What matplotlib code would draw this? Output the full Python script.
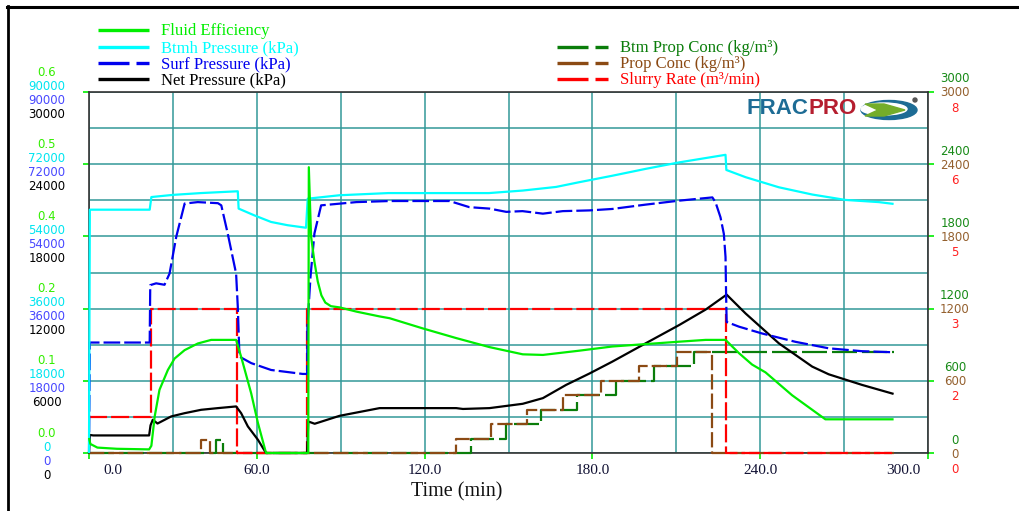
import matplotlib
matplotlib.use("Agg")
import matplotlib.pyplot as plt
from matplotlib.lines import Line2D
from matplotlib.patches import Ellipse, Polygon
from matplotlib.transforms import ScaledTranslation

plt.rcParams["lines.scale_dashes"] = False

# ---------------- data ----------------
# Fluid efficiency (fraction)
fe_t = [0, 0.5, 3, 10, 21.5, 22.3, 23.5, 25.2, 28.2, 30.6, 34.2, 38.9, 43.7, 52.6,
        54.4, 58.0, 60.4, 63.3, 77.6, 78.4, 78.6, 79.4, 80.6, 81.8, 83.1, 84.5, 86.5,
        89.6, 95.6, 103.9, 107.5, 119.4, 131.3, 143.2, 155.1, 162.3, 175.2, 187.1,
        199.0, 211.0, 220.5, 227.6, 232.4, 237.1, 241.9, 251.4, 263.3, 287.7]
fe_v = [0.025, 0.015, 0.009, 0.007, 0.006, 0.012, 0.061, 0.105, 0.138, 0.157, 0.171,
        0.182, 0.188, 0.188, 0.160, 0.099, 0.050, 0.0, 0.0, 0.0, 0.475, 0.360, 0.318,
        0.285, 0.262, 0.250, 0.244, 0.242, 0.235, 0.227, 0.224, 0.207, 0.191, 0.176,
        0.164, 0.163, 0.170, 0.177, 0.181, 0.185, 0.188, 0.188, 0.166, 0.147, 0.134,
        0.096, 0.056, 0.056]

# Bottomhole pressure (kPa)
bh_t = [0, 0.3, 21.7, 22.3, 30, 40, 53.2, 53.5, 59.2, 65.1, 71.0, 77.6, 78.2, 79.5,
        89.6, 107, 143, 155.1, 167, 175.2, 187.1, 199, 211, 227.6, 227.9, 234.8,
        246.7, 258.6, 270.5, 282.4, 287.7]
bh_v = [0, 60660, 60660, 63810, 64350, 64800, 65250, 60930, 59220, 57600, 56790,
        56160, 63400, 63500, 64260, 64800, 64800, 65430, 66330, 67500, 69120, 70830,
        72450, 74340, 70560, 68760, 66240, 64440, 63090, 62550, 62100]

# Surface pressure (kPa)
sp_t = [0, 0.3, 21.7, 21.9, 24, 27, 28.8, 31.2, 34.2, 38.9, 46.1, 47.3, 49.6, 52.6,
        53.2, 53.8, 58, 65.1, 76.4, 78, 78.1, 79.2, 80.6, 83, 90, 95.6, 107.5, 128.9,
        136, 143.2, 149.2, 155, 162.3, 169.4, 178.9, 187.1, 199, 211, 222.9, 224,
        225.8, 227, 227.6, 227.8, 228, 232.4, 240.7, 252.6, 264.5, 276.4, 287.7]
sp_v = [0, 27540, 27540, 41850, 42300, 41940, 44730, 53910, 62190, 62550, 62280,
        61740, 54720, 44730, 36450, 24030, 22410, 20700, 19710, 19710, 31500, 43920,
        54720, 61740, 62190, 62550, 62820, 62820, 61290, 60930, 60120, 60300, 59670,
        60300, 60480, 60840, 61920, 62910, 63720, 62550, 58770, 54630, 48870, 39780,
        32670, 31500, 29790, 27720, 26100, 25380, 25110]

# Net pressure (kPa)
np_t = [0, 0.3, 1.5, 21.5, 22.0, 22.8, 24.5, 29.4, 34.2, 40.1, 46.1, 52.6, 54.4, 56.8,
        60.4, 63.3, 78.0, 78.4, 80.7, 89.6, 103.9, 131.3, 133.7, 143.2, 155.1, 162.3,
        170.6, 178.9, 187.1, 199, 211, 220.5, 228, 234.8, 246.7, 258.6, 264.5, 276.4,
        287.7]
np_v = [0, 1500, 1460, 1460, 2300, 2760, 2450, 3040, 3310, 3590, 3730, 3870, 3310,
        2210, 1100, 0, 0, 2620, 2430, 3090, 3730, 3730, 3660, 3730, 4090, 4560, 5660,
        6600, 7590, 9110, 10630, 11920, 13160, 11590, 9110, 7180, 6540, 5660, 4910]

# Bottomhole proppant concentration (kg/m3), stepwise
bpc_t = [0, 45.3, 47.8, 136.7, 149.2, 161.7, 174.4, 188.3, 202.0, 216.3, 287.7]
bpc_v = [0, 110, 0, 120, 240, 360, 480, 600, 720, 840, 840]

# Surface proppant concentration (kg/m3), stepwise
pc_t = [0, 40.1, 43.4, 131.3, 143.8, 156.5, 169.4, 183.0, 196.7, 210.4, 222.9, 287.7]
pc_v = [0, 110, 0, 120, 240, 360, 480, 600, 720, 840, 0, 0]

# Slurry rate (m3/min), stepwise
rate_t = [0, 22.0, 53.0, 78.0, 227.6, 287.7]
rate_v = [0.8, 3.2, 0, 3.2, 0, 0]

# axis tick values and their printed labels
x_ticks = [0, 60, 120, 180, 240, 300]
x_tick_labels = ["0.0", "60.0", "120.0", "180.0", "240.0", "300.0"]
fe_ticks = [0.0, 0.12, 0.24, 0.36, 0.48, 0.6]
fe_tick_labels = ["0.0", "0.1", "0.2", "0.4", "0.5", "0.6"]
bh_ticks = [0, 18000, 36000, 54000, 72000, 90000]
bh_tick_labels = ["0", "18000", "36000", "54000", "72000", "90000"]
sp_ticks = [0, 18000, 36000, 54000, 72000, 90000]
sp_tick_labels = ["0", "18000", "36000", "54000", "72000", "90000"]
np_ticks = [0, 6000, 12000, 18000, 24000, 30000]
np_tick_labels = ["0", "6000", "12000", "18000", "24000", "30000"]
bpc_ticks = [0, 600, 1200, 1800, 2400, 3000]
bpc_tick_labels = ["0", "600", "1200", "1800", "2400", "3000"]
pc_ticks = [0, 600, 1200, 1800, 2400, 3000]
pc_tick_labels = ["0", "600", "1200", "1800", "2400", "3000"]
rate_ticks = [0, 1.6, 3.2, 4.8, 6.4, 8.0]
rate_tick_labels = ["0", "2", "3", "5", "6", "8"]

# ---------------- figure ----------------
W, H = 1019, 511
fig = plt.figure(figsize=(W / 100, H / 100), dpi=100)
fig.patch.set_facecolor("white")


def fx(x):
    return x / W


def fy(y):
    return 1 - y / H


SERIF = "Liberation Serif"
SANS = "DejaVu Sans"
GRID = "#339999"

rect = [fx(89), fy(453), (928 - 89) / W, (453 - 92) / H]
base = fig.add_axes(rect, label="grid")
base.set_xlim(0, 300)
base.set_ylim(0, 1)
base.set_xticks(x_ticks)
base.set_xticks([30, 90, 150, 210, 270], minor=True)
base.set_yticks([0, 0.2, 0.4, 0.6, 0.8, 1.0])
base.set_yticks([0.1, 0.3, 0.5, 0.7, 0.9], minor=True)
base.grid(True, which="both", color=GRID, lw=1.1)
base.set_axisbelow(True)
base.tick_params(which="major", length=4, width=1.2, color="#00ee00",
                 labelleft=False, labelbottom=False, right=True, direction="out")
base.tick_params(which="minor", length=0)
for s in base.spines.values():
    s.set_color("#333333")
    s.set_linewidth(1.2)

# one overlay axes per series, each with its own vertical scale
series = [
    ("bpc", bpc_t, bpc_v, 3000, "#0a7d0a", (18, 3.6), "steps-post"),
    ("pc", pc_t, pc_v, 3000, "#8b4a14", (11, 2.9), "steps-post"),
    ("rate", rate_t, rate_v, 8, "#ff0000", (13, 2.9), "steps-post"),
    ("net", np_t, np_v, 30000, "#000000", None, "default"),
    ("surf", sp_t, sp_v, 90000, "#0000ee", (12, 2.9), "default"),
    ("btmh", bh_t, bh_v, 90000, "#00ffff", None, "default"),
    ("fe", fe_t, fe_v, 0.6, "#00ee00", None, "default"),
]
axes = {}
for name, t, v, top, color, dashes, ds in series:
    a = fig.add_axes(rect, label=name, sharex=base)
    a.set_ylim(0, top)
    a.set_axis_off()
    a.patch.set_visible(False)
    (ln,) = a.plot(t, v, color=color, lw=1.6, drawstyle=ds, clip_on=False,
                   solid_capstyle="butt")
    if dashes is not None:
        ln.set_dashes(dashes)
    axes[name] = a
base.set_xlim(0, 300)


def stacked_labels(ax, ticks, labels, xpos, dy_px, color):
    tr = ax.get_yaxis_transform() + ScaledTranslation(0, -dy_px / 100, fig.dpi_scale_trans)
    for val, lab in zip(ticks, labels):
        ax.text(xpos, val, lab, transform=tr, ha="center", va="center",
                color=color, fontsize=8.5, family=SANS, clip_on=False)


xl = (47 - 89) / 839
xr = (955 - 89) / 839
stacked_labels(axes["fe"], fe_ticks, fe_tick_labels, xl, -20, "#33ee00")
stacked_labels(axes["btmh"], bh_ticks, bh_tick_labels, xl, -6, "#00e5f0")
stacked_labels(axes["surf"], sp_ticks, sp_tick_labels, xl, 8, "#4848ff")
stacked_labels(axes["net"], np_ticks, np_tick_labels, xl, 22, "#000000")
stacked_labels(axes["bpc"], bpc_ticks, bpc_tick_labels, xr, -13, "#178a17")
stacked_labels(axes["pc"], pc_ticks, pc_tick_labels, xr, 1, "#94602e")
stacked_labels(axes["rate"], rate_ticks, rate_tick_labels, xr, 16, "#ff2020")

# time tick labels (end labels tucked inward)
x_shift = [24, 0, 0, 0, 0, -25]
for val, lab, dx in zip(x_ticks, x_tick_labels, x_shift):
    tr = base.get_xaxis_transform() + ScaledTranslation(dx / 100, -17 / 100, fig.dpi_scale_trans)
    base.text(val, 0, lab, transform=tr, ha="center", va="center",
              fontsize=11, family=SERIF, color="#111133", clip_on=False)

fig.text(fx(457), fy(492), "Time (min)", ha="center", va="center",
         fontsize=14.5, family=SERIF, color="#111111")

# ---------------- legend ----------------
def legend_row(x0, y, text, color, dashed):
    if dashed:
        segs = [(x0, x0 + 31), (x0 + 38, x0 + 51)]
    else:
        segs = [(x0, x0 + 51)]
    for a, b in segs:
        fig.add_artist(Line2D([fx(a), fx(b)], [fy(y), fy(y)], color=color,
                              lw=2.4, solid_capstyle="butt"))
    fig.text(fx(x0 + 63), fy(y + 1), text, color=color, fontsize=12,
             family=SERIF, ha="left", va="center")


legend_row(98, 30, "Fluid Efficiency", "#00ee00", False)
legend_row(98, 47, "Btmh Pressure (kPa)", "#00ffff", False)
legend_row(98, 63, "Surf Pressure (kPa)", "#0000ee", True)
legend_row(98, 79, "Net Pressure (kPa)", "#000000", False)
legend_row(557, 47, "Btm Prop Conc (kg/m³)", "#0a7d0a", True)
legend_row(557, 63, "Prop Conc (kg/m³)", "#8b4a14", True)
legend_row(557, 79, "Slurry Rate (m³/min)", "#ff0000", True)

# ---------------- logo ----------------
fig.text(fx(747), fy(109), "FRAC", color="#1d6c95", fontsize=16, weight="bold",
         family="Liberation Sans", ha="left", va="center")
fig.text(fx(809), fy(109), "PRO", color="#b51e2f", fontsize=16, weight="bold",
         family="Liberation Sans", ha="left", va="center")
fig.add_artist(Ellipse((fx(889), fy(110)), 56 / W, 19 / H, color="#1d6c95"))
fig.add_artist(Ellipse((fx(884), fy(109)), 46 / W, 12 / H, color="white"))
fig.add_artist(Polygon([(fx(865), fy(104)), (fx(884), fy(104)), (fx(905), fy(110)),
                        (fx(884), fy(116)), (fx(865), fy(116)), (fx(878), fy(110))],
                       closed=True, color="#74ad2a"))
fig.add_artist(Ellipse((fx(915), fy(100)), 4 / W, 4 / H, color="#555555"))

# ---------------- outer frame ----------------
fig.add_artist(Line2D([fx(7), fx(W)], [fy(7), fy(7)], color="black", lw=2.2))
fig.add_artist(Line2D([fx(8), fx(8)], [fy(6), fy(H)], color="black", lw=2.0))

fig.savefig("out.png", dpi=100, facecolor="white")
